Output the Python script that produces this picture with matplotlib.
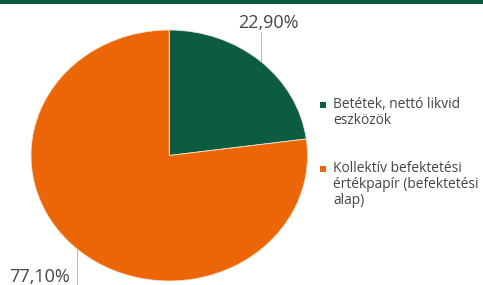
import matplotlib
matplotlib.use('Agg')
import matplotlib.pyplot as plt
from matplotlib.patches import Rectangle

# Data
labels = ['Betétek, nettó likvid\neszközök',
          'Kollektív befektetési\nértékpapír (befektetési\nalap)']
shares = [22.90, 77.10]
colors = ['#0b5c40', '#ec6607']

plt.rcParams['font.family'] = ['Open Sans', 'DejaVu Sans']

fig = plt.figure(figsize=(4.83, 2.85), dpi=100)

# pie axes: bounding box of the (slightly stretched) pie, in pixels
W, H = 483, 285
left, right, top, bottom = 31, 307.5, 30, 281
pax = fig.add_axes([left / W, 1 - bottom / H, (right - left) / W, (bottom - top) / H])
pax.pie(shares, colors=colors, startangle=90, counterclock=False, radius=1,
        wedgeprops=dict(edgecolor='#f3e3d3', linewidth=0.6))
pax.set_aspect('auto')
pax.set_xlim(-1, 1)
pax.set_ylim(-1, 1)
pax.axis('off')

# overlay in pixel coordinates for bar, labels and legend
ov = fig.add_axes([0, 0, 1, 1], facecolor='none')
ov.set_xlim(0, W)
ov.set_ylim(H, 0)
ov.axis('off')

# top band
ov.add_patch(Rectangle((0, 0), W, 3.5, color='#0b5a3e', lw=0))

txt = '#454545'
fmt = lambda v: f'{v:.2f}%'.replace('.', ',')

# data labels with leader lines
ov.plot([261, 261], [32, 61], color='#b8b8b8', lw=0.8)
ov.text(268.5, 27.5, fmt(shares[0]), ha='center', va='baseline', fontsize=13, color=txt)
ov.plot([77, 77], [250, 285], color='#b8b8b8', lw=0.8)
ov.text(40, 281.5, fmt(shares[1]), ha='center', va='baseline', fontsize=13, color=txt)

# legend
leg_y = [105, 169]
for y, lab, c in zip(leg_y, labels, colors):
    ov.add_patch(Rectangle((320, y - 3), 6, 6, color=c, lw=0))
    for i, line in enumerate(lab.split('\n')):
        ov.text(333, y + 3.5 + i * 15.5, line, ha='left', va='baseline',
                fontsize=9.9, color=txt)

plt.savefig('out.png', dpi=100)
plt.close()
